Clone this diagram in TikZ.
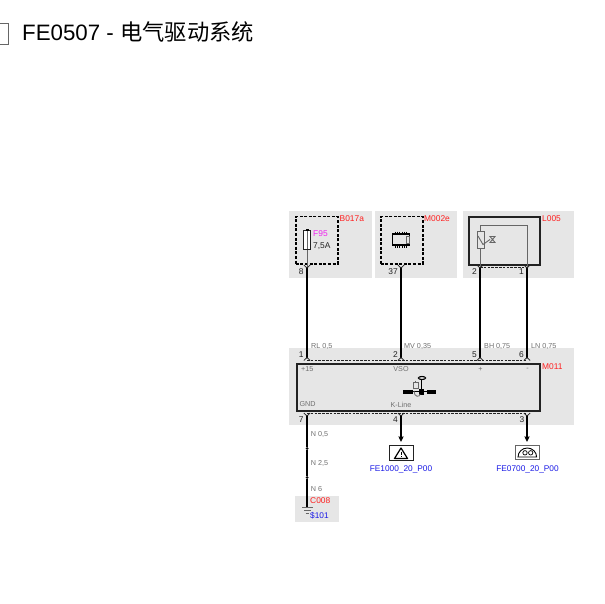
\documentclass[tikz,border=0pt]{standalone}
\usepackage{fontspec}
\setmainfont{Liberation Sans}
\newfontfamily\cjk{Noto Sans CJK SC}
\usetikzlibrary{arrows.meta}
\definecolor{panel}{HTML}{E6E6E6}
\definecolor{refred}{HTML}{FF2020}
\definecolor{refblue}{HTML}{1A1AE6}
\definecolor{refmag}{HTML}{F020F0}
\definecolor{wgrey}{HTML}{666666}
\definecolor{lblgrey}{HTML}{707070}
\definecolor{dk}{HTML}{222222}
\tikzset{
 panelbox/.style={fill=panel,draw=none},
 dashbox/.style={draw=black,line width=1.5pt,dash pattern=on 3pt off 1.6pt},
 solidbox/.style={draw=dk,line width=1.6pt},
 harness/.style={draw=black,line width=2.2pt},
 thin wire/.style={draw=wgrey,line width=1pt},
 conn/.style={draw=dk,line width=0.8pt,dash pattern=on 2.6pt off 1.2pt},
 pinmark/.style={draw=dk,line width=0.8pt},
 reflabel/.style={text=refred,font=\fontsize{8.4}{9}\selectfont,anchor=west,inner sep=0pt},
 pinlabel/.style={text=dk,font=\fontsize{8.4}{9}\selectfont,anchor=east,inner sep=0pt},
 wirelabel/.style={text=lblgrey,font=\fontsize{7.2}{8}\selectfont,anchor=west,inner sep=0pt},
 sigplain/.style={text=lblgrey,font=\fontsize{7.2}{8}\selectfont,inner sep=0pt},
 linklabel/.style={text=refblue,font=\fontsize{8.3}{9}\selectfont,inner sep=0pt},
 splice/.style={circle,fill=black,inner sep=0pt,minimum size=3pt},
}
\begin{document}
\begin{tikzpicture}[x=1pt,y=-1pt]
\useasboundingbox (0,0) rectangle (605,604);
\fill[white] (0,0) rectangle (605,604);
% title
\draw[draw=wgrey,line width=0.8pt] (-5,23) rectangle (8,44);
\node[anchor=base west,inner sep=0pt,font=\fontsize{22.3}{26}\selectfont] (title) at (22,41) {FE0507 - {\cjk 电气驱动系统}};
% panels
\fill[panelbox] (289,211) rectangle (372,278);
\fill[panelbox] (375,211) rectangle (457,278);
\fill[panelbox] (463,211) rectangle (574,278);
\fill[panelbox] (289,348) rectangle (574,425);
\fill[panelbox] (295,496) rectangle (339,522);
% pin coordinates
\foreach \n/\x in {a/307,b/401,c/480,d/527}{
  \coordinate (\n top) at (\x,268);
  \coordinate (\n mid) at (\x,357.5);
}
\coordinate (gbot) at (307,416);
\coordinate (wbot) at (401,416);
\coordinate (cbot) at (527,416);
% boxes
\node[dashbox,minimum width=42pt,minimum height=47pt,inner sep=0pt,anchor=north west] (fusebox) at (295,216) {};
\node[dashbox,minimum width=42pt,minimum height=47pt,inner sep=0pt,anchor=north west] (ecubox) at (380,216) {};
\node[solidbox,fill=panel,minimum width=71pt,minimum height=48pt,inner sep=0pt,anchor=north west] (sensor) at (468,216) {};
\node[solidbox,fill=panel,minimum width=243pt,minimum height=47pt,inner sep=0pt,anchor=north west] (module) at (296,363) {};
% refs
\node[reflabel] (rb) at (339.5,219) {B017a};
\node[reflabel] (rm) at (424,219) {M002e};
\node[reflabel] (rl) at (542,219) {L005};
\node[reflabel] (rm11) at (542,366.5) {M011};
\node[reflabel] (rc) at (310,501) {C008};
% fuse
\draw[thin wire] (307,230) -- (atop);
\node[draw=dk,line width=1.1pt,fill=white,minimum width=7pt,minimum height=19pt,inner sep=0pt,anchor=north] (fuse) at (307,230) {};
\draw[wgrey,line width=0.6pt] (307,230) -- (307,249);
\fill[black] (305.5,229) rectangle (308.5,231);
\node[anchor=west,inner sep=0pt,text=refmag,font=\fontsize{8.4}{9}\selectfont] (f95) at (313,234) {F95};
\node[anchor=west,inner sep=0pt,text=dk,font=\fontsize{8.4}{9}\selectfont] (fa) at (313,246) {7,5A};
% chip
\node[draw=black,line width=1.3pt,fill=panel,minimum width=17pt,minimum height=11pt,inner sep=0pt] (chip) at (401,239.5) {};
\foreach \i in {0,...,5}{
  \draw[black,line width=0.9pt] (395.5+\i*2.2,231.7) -- (395.5+\i*2.2,234);
  \draw[black,line width=0.9pt] (395.5+\i*2.2,245) -- (395.5+\i*2.2,247.5);
}
\draw[wgrey,line width=0.7pt] (406.5,236.5) rectangle (409,243);
% sensor
\draw[thin wire] (ctop) |- (527,225.5) -- (dtop);
\node[draw=wgrey,line width=1pt,fill=panel,minimum width=7pt,minimum height=17pt,inner sep=0pt,anchor=north] (res) at (480.5,231) {};
\draw[wgrey,line width=0.9pt] (478,236) -- (483,244.5) -- (490,239.5);
\draw[wgrey,line width=0.9pt] (490,236.5) -- (492.5,239.5) -- (490,242.5) -- (495,242.5) -- (492.5,239.5) -- (495,236.5) -- cycle;
% harness
\draw[harness] (atop) -- (amid);
\draw[harness] (btop) -- (bmid);
\draw[harness] (ctop) -- (cmid);
\draw[harness] (dtop) -- (dmid);
% connector dashes and pin marks
\draw[conn] (480,267) -- (527,267);
\draw[conn] (307,360.3) -- (527,360.3);
\draw[conn] (307,413.5) -- (527,413.5);
\foreach \n in {atop,btop,ctop,dtop,gbot,wbot,cbot}{
  \draw[pinmark] ([xshift=-3.2pt,yshift=3pt]\n) -- (\n) -- ([xshift=3.2pt,yshift=3pt]\n);
}
\foreach \n in {a,b,c,d}{
  \draw[pinmark] ([xshift=-3.2pt,yshift=-3pt]\n mid) -- (\n mid) -- ([xshift=3.2pt,yshift=-3pt]\n mid);
}
% pin numbers
\node[pinlabel] (p8) at (303.8,272) {8};
\node[pinlabel] (p37) at (398,272) {37};
\node[pinlabel] (p2t) at (477,272) {2};
\node[pinlabel] (p1t) at (524,272) {1};
\node[pinlabel] (p1) at (303.8,354.5) {1};
\node[pinlabel] (p2) at (398,354.5) {2};
\node[pinlabel] (p5) at (477,354.5) {5};
\node[pinlabel] (p6) at (524,354.5) {6};
\node[pinlabel] (p7) at (303.8,419.5) {7};
\node[pinlabel] (p4) at (398,419.5) {4};
\node[pinlabel] (p3) at (524.5,419.5) {3};
% wire labels
\node[wirelabel] (w1) at (311,346) {RL 0,5};
\node[wirelabel] (w2) at (404,346) {MV 0,35};
\node[wirelabel] (w3) at (484,346) {BH 0,75};
\node[wirelabel] (w4) at (531,346) {LN 0,75};
\node[wirelabel] (w5) at (310.7,434) {N 0,5};
\node[wirelabel] (w6) at (310.7,463.5) {N 2,5};
\node[wirelabel] (w7) at (310.7,489.5) {N 6};
% signals
\node[sigplain,anchor=west] (s1) at (301,369.5) {+15};
\node[sigplain] (s2) at (401,369.5) {VSO};
\node[sigplain] (s3) at (480.5,369.5) {+};
\node[sigplain] (s4) at (527.5,369.5) {-};
\node[sigplain,anchor=west] (s5) at (299.3,404.5) {GND};
\node[sigplain] (s6) at (401,404.5) {K-Line};
% module symbol
\draw[black,line width=1pt] (421.5,379) -- (421.5,394);
\draw[black,line width=1.1pt,fill=panel] (422,378) ellipse (3.6pt and 1.5pt);
\fill[black] (402.5,389.5) rectangle (413,394);
\fill[black] (419,389) rectangle (424,394.5);
\fill[black] (427,389.5) rectangle (436,394);
\draw[black,line width=0.7pt] (413,391.7) -- (427,391.7);
\draw[wgrey,line width=0.8pt,fill=panel] (413,382.5) rectangle (418,388);
\draw[wgrey,line width=0.8pt] (415.5,380.5) -- (415.5,382.5);
\draw[wgrey,line width=0.8pt] (414,391) .. controls (414,397.5) and (420,397.5) .. (420,394);
% ground wire
\coordinate (gnd) at (307,507);
\draw[harness] (gbot) -- (307,446.8);
\draw[harness] (307,450.2) -- (307,475.8);
\draw[harness] (307,479.2) -- (gnd);
\node[splice] (s1a) at (307,448.5) {};
\node[splice] (s2a) at (307,477.5) {};
\draw[wgrey,line width=1pt] (302,507.5) -- (313,507.5);
\draw[wgrey,line width=0.9pt] (304,510.5) -- (311,510.5);
\draw[wgrey,line width=0.9pt] (305.5,513.5) -- (309,513.5);
\node[linklabel,anchor=west] (gid) at (310,516) {\$101};
% output icons
\node[draw=dk,line width=0.9pt,fill=white,minimum width=24pt,minimum height=15pt,inner sep=0pt,anchor=north west] (warn) at (389,445) {};
\draw[black,line width=1.2pt,line join=round] (394.5,458.5) -- (401,448) -- (407.5,458.5) -- cycle;
\draw[black,line width=0.9pt] (401,451.5) -- (401,455.3);
\fill[black] (400.5,456) rectangle (401.5,457.2);
\node[draw=wgrey,line width=1pt,fill=white,minimum width=24pt,minimum height=14pt,inner sep=0pt,anchor=north west] (clus) at (515,445) {};
\draw[black,line width=0.9pt] (518,457) arc (180:0:9.3pt and 9pt) -- cycle;
\draw[black,line width=0.7pt] (525,452.8) circle (2.2pt);
\draw[black,line width=0.7pt] (530.7,452.8) circle (2.2pt);
\coordinate (warnin) at (401,442);
\coordinate (clusin) at (527,442);
\draw[harness,-{Stealth[length=5.5pt,width=5pt,inset=0.5pt]}] (wbot) -- (warnin);
\draw[harness,-{Stealth[length=5.5pt,width=5pt,inset=0.5pt]}] (cbot) -- (clusin);
\node[linklabel] (l1) at (401,469) {FE1000\_20\_P00};
\node[linklabel] (l2) at (527.5,469) {FE0700\_20\_P00};
\end{tikzpicture}
\end{document}
